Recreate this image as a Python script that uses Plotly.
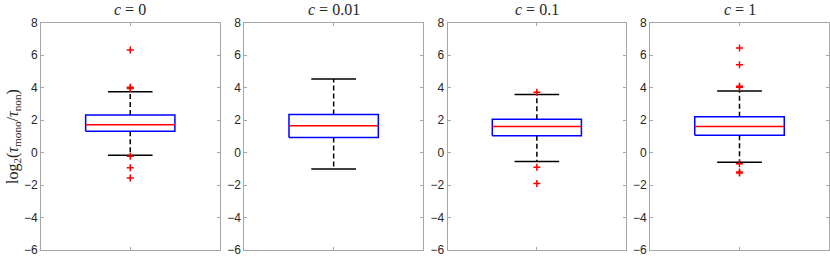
import plotly.graph_objects as go

# ---- data ----
c_labels = ["0", "0.01", "0.1", "1"]
q1 = [1.31, 0.93, 1.03, 1.07]
median = [1.72, 1.66, 1.60, 1.60]
q3 = [2.32, 2.34, 2.06, 2.20]
lower_whisker = [-0.16, -1.01, -0.55, -0.59]
upper_whisker = [3.74, 4.53, 3.58, 3.80]
outliers = [
    [6.32, 4.02, 3.94, -0.22, -0.93, -1.56],
    [],
    [3.72, -0.91, -1.90],
    [6.44, 5.41, 4.08, 4.02, -0.69, -1.19, -1.25],
]
y_ticks = [-6, -4, -2, 0, 2, 4, 6, 8]

# ---- style ----
W, H = 830, 257
x_doms = [(41, 219.5), (244.3, 423), (447.7, 626), (650, 829)]
y_top, y_bot = 22.7, 250
BOX_W = 0.5
CAP_HALF = 0.125
AX_COL = "#a6a6a6"
TXT_COL = "#262626"

fig = go.Figure()
for i in range(4):
    xa = "x" if i == 0 else f"x{i+1}"
    ya = "y" if i == 0 else f"y{i+1}"
    bl, br = 1 - BOX_W / 2, 1 + BOX_W / 2
    # whiskers (dashed)
    for a, b in [(q3[i], upper_whisker[i]), (q1[i], lower_whisker[i])]:
        fig.add_trace(go.Scatter(
            x=[1, 1], y=[a, b], mode="lines",
            line=dict(color="black", width=1.5, dash="5px,3px"),
            xaxis=xa, yaxis=ya, showlegend=False))
    # caps
    for v in [upper_whisker[i], lower_whisker[i]]:
        fig.add_trace(go.Scatter(
            x=[1 - CAP_HALF, 1 + CAP_HALF], y=[v, v], mode="lines",
            line=dict(color="black", width=1.5),
            xaxis=xa, yaxis=ya, showlegend=False))
    # box
    fig.add_trace(go.Scatter(
        x=[bl, br, br, bl, bl], y=[q1[i], q1[i], q3[i], q3[i], q1[i]],
        mode="lines", line=dict(color="#0000ff", width=1.5),
        xaxis=xa, yaxis=ya, showlegend=False))
    # median
    fig.add_trace(go.Scatter(
        x=[bl, br], y=[median[i], median[i]],
        mode="lines", line=dict(color="#ff0000", width=1.5),
        xaxis=xa, yaxis=ya, showlegend=False))
    # outliers
    if outliers[i]:
        fig.add_trace(go.Scatter(
            x=[1] * len(outliers[i]), y=outliers[i], mode="markers",
            marker=dict(symbol="cross-thin", size=5, color="#ff0000",
                        line=dict(color="#ff0000", width=1.5)),
            xaxis=xa, yaxis=ya, showlegend=False))

    x0, x1 = x_doms[i]
    fig.layout[("xaxis" if i == 0 else f"xaxis{i+1}")] = dict(
        domain=[x0 / W, x1 / W], range=[0.5, 1.5], anchor=ya,
        showgrid=False, zeroline=False, showline=True, linecolor=AX_COL,
        linewidth=1, mirror="ticks", ticks="inside", ticklen=3,
        tickcolor=AX_COL, tickvals=[1], showticklabels=False, fixedrange=True,
        automargin=False)
    fig.layout[("yaxis" if i == 0 else f"yaxis{i+1}")] = dict(
        domain=[1 - y_bot / H, 1 - y_top / H], range=[-6, 8], anchor=xa,
        showgrid=False, zeroline=False, showline=True, linecolor=AX_COL,
        linewidth=1, mirror="ticks", ticks="inside", ticklen=3,
        tickcolor=AX_COL, tickvals=y_ticks,
        ticktext=[str(t).replace("-", "\u2212") for t in y_ticks],
        tickfont=dict(family="Liberation Sans", size=12, color=TXT_COL),
        ticklabeloverflow="allow",
        fixedrange=True, automargin=False)
    fig.add_annotation(
        text=f"<i>c</i> = {c_labels[i]}", x=(x0 + x1) / 2 / W, y=1 - 10 / H,
        xref="paper", yref="paper", showarrow=False, xanchor="center",
        yanchor="middle",
        font=dict(family="Liberation Serif", size=16, color=TXT_COL))

fig.add_annotation(
    text="log<sub>2</sub>(<i>τ</i><sub>mono</sub>/<i>τ</i><sub>non</sub>)",
    x=13 / W, y=1 - 137 / H, xref="paper", yref="paper", showarrow=False,
    textangle=-90, xanchor="center", yanchor="middle",
    font=dict(family="Liberation Serif", size=16, color=TXT_COL))

fig.update_layout(
    width=W, height=H, margin=dict(l=0, r=0, t=0, b=0, pad=0),
    paper_bgcolor="white", plot_bgcolor="white", showlegend=False)

fig.write_html(
    "out.html",
    config={"displayModeBar": False},
    post_script="document.body.style.margin='0';document.body.style.overflow='hidden';")
